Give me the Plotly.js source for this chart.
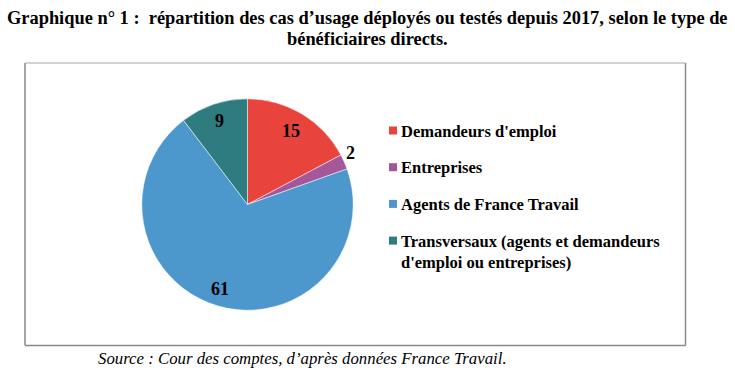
<!DOCTYPE html>
<html>
<head>
<meta charset="utf-8">
<script src="https://cdn.plot.ly/plotly-3.0.1.min.js"></script>
<style>
html,body{margin:0;padding:0;background:#fff;}
#chart{width:735px;height:378px;}
</style>
</head>
<body>
<div id="chart"></div>
<script>
// ---- data ----
const categories = [
  "Demandeurs d'emploi",
  "Entreprises",
  "Agents de France Travail",
  "Transversaux (agents et demandeurs<br>d'emploi ou entreprises)"
];
const values = [15, 2, 61, 9];
const colors = ["#E8443C", "#A5579A", "#4C98CC", "#2E7B80"];
const titleLines = [
  "Graphique n° 1 :  répartition des cas d’usage déployés ou testés depuis 2017, selon le type de",
  "bénéficiaires directs."
];
const sourceText = "Source : Cour des comptes, d’après données France Travail.";

// ---- layout geometry ----
const W = 735, H = 378;
const cxPx = 247.5, cyPx = 204.5, R = 105.7;
const cx = cxPx / W, cy = 1 - cyPx / H;
const labelRadius = [0.81, 1.09, 0.84, 0.83];
const labelAngleShift = [-0.5, -2.5, 1.5, 0];
const serif = "'Liberation Serif', 'Times New Roman', serif";

const total = values.reduce((a, b) => a + b, 0);
const annotations = [];
let cum = 0;
values.forEach((v, i) => {
  const mid = (cum + v / 2) / total * 2 * Math.PI + labelAngleShift[i] * Math.PI / 180;
  cum += v;
  const rr = R * labelRadius[i];
  annotations.push({
    xref: 'paper', yref: 'paper',
    x: cx + rr * Math.sin(mid) / W,
    y: cy + rr * Math.cos(mid) / H,
    text: '<b>' + v + '</b>', showarrow: false,
    xanchor: 'center', yanchor: 'middle',
    font: {family: serif, size: 18, color: '#000'}
  });
});

// title
const titleY = [18, 38.5];
titleLines.forEach((t, i) => {
  annotations.push({
    xref: 'paper', yref: 'paper', x: 0.5, y: 1 - titleY[i] / H,
    xanchor: 'center', yanchor: 'middle', showarrow: false,
    text: '<b>' + t + '</b>',
    font: {family: serif, size: 18.4, color: '#000'}
  });
});

// custom legend
const legX = 399, legY0 = 130.5, legStep = 36.7, legFs = 16.5;
const shapes = [];
categories.forEach((c, i) => {
  const y = legY0 + i * legStep;
  annotations.push({
    xref: 'paper', yref: 'paper',
    x: legX / W, y: 1 - (y - 11) / H,
    text: '<b>' + c + '</b>', showarrow: false, align: 'left',
    xanchor: 'left', yanchor: 'top',
    font: {family: serif, size: legFs, color: '#000'}
  });
  shapes.push({
    type: 'rect', xref: 'paper', yref: 'paper',
    x0: 389 / W, x1: 397 / W, y0: 1 - (y - 4) / H, y1: 1 - (y + 4) / H,
    fillcolor: colors[i], line: {width: 0}
  });
});

// source
annotations.push({
  xref: 'paper', yref: 'paper', x: 96 / W, y: 1 - 358.5 / H,
  xanchor: 'left', yanchor: 'middle', showarrow: false,
  text: '<i>' + sourceText + '</i>',
  font: {family: serif, size: 16.8, color: '#000'}
});

// frame
const fx0 = 25 / W, fx1 = 685.5 / W, fy0 = 1 - 345.5 / H, fy1 = 1 - 63 / H;
shapes.push({type: 'line', xref: 'paper', yref: 'paper', x0: fx0, x1: fx1, y0: fy1, y1: fy1, line: {color: '#c4c4c4', width: 1.5}});
shapes.push({type: 'line', xref: 'paper', yref: 'paper', x0: fx0, x1: fx0, y0: fy0, y1: fy1, line: {color: '#8a8a8a', width: 1.5}});
shapes.push({type: 'line', xref: 'paper', yref: 'paper', x0: fx1, x1: fx1, y0: fy0, y1: fy1, line: {color: '#8a8a8a', width: 1.5}});
shapes.push({type: 'line', xref: 'paper', yref: 'paper', x0: fx0, x1: fx1, y0: fy0, y1: fy0, line: {color: '#8a8a8a', width: 1.5}});

const trace = {
  type: 'pie',
  labels: categories,
  values: values,
  sort: false,
  direction: 'clockwise',
  rotation: 0,
  textinfo: 'none',
  marker: {colors: colors, line: {color: '#ffffff', width: 0.5}},
  domain: {x: [cx - R / W, cx + R / W], y: [cy - R / H, cy + R / H]},
  showlegend: false
};

const layout = {
  width: W, height: H,
  margin: {l: 0, r: 0, t: 0, b: 0},
  paper_bgcolor: '#fff',
  annotations: annotations,
  shapes: shapes,
  showlegend: false
};

Plotly.newPlot('chart', [trace], layout, {displayModeBar: false, staticPlot: true});
</script>
</body>
</html>
